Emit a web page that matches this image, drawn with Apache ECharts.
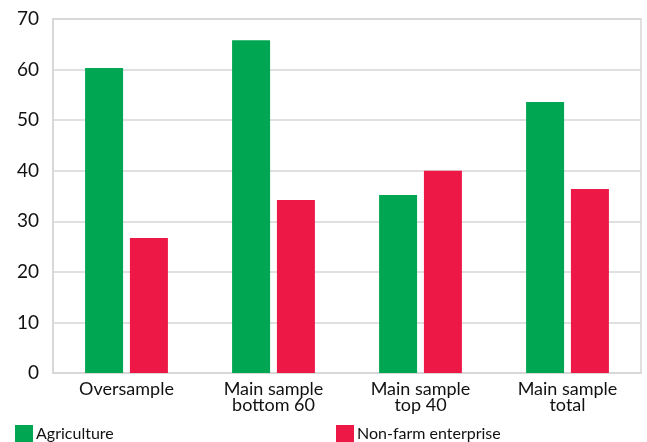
<!DOCTYPE html>
<html>
<head>
<meta charset="utf-8">
<script src="https://cdn.jsdelivr.net/npm/echarts@6/dist/echarts.min.js"></script>
<style>
  html, body { margin: 0; padding: 0; background: #fff; }
  #chart { width: 647px; height: 442px; }
</style>
</head>
<body>
<div id="chart"></div>
<script>
// Share of households by main activity (%)
const categories = ['Oversample', 'Main sample\nbottom 60', 'Main sample\ntop 40', 'Main sample\ntotal'];
const agriculture = [60.3, 65.8, 35.2, 53.6];
const nonFarm = [26.7, 34.2, 40.0, 36.4];
const yTicks = { min: 0, max: 70, interval: 10 };

const FONT = 'Lato, "Noto Sans", sans-serif';
const GREEN = '#00a651';
const RED = '#ed1846';
const GRID = '#d6d6d6';
const TEXT = '#111';

const legendBase = {
  top: 420, itemWidth: 18, itemHeight: 18, itemGap: 0, icon: 'rect',
  textStyle: { fontFamily: FONT, fontSize: 16, color: TEXT, padding: [3, 0, 0, -2] }
};

const chart = echarts.init(document.getElementById('chart'), null, { renderer: 'canvas' });
chart.setOption({
  animation: false,
  grid: { left: 53, right: 6, top: 19, bottom: 69, show: true, borderColor: GRID, borderWidth: 1.5 },
  legend: [
    Object.assign({ data: ['Agriculture'], left: 10 }, legendBase),
    Object.assign({ data: ['Non-farm enterprise'], left: 331 }, legendBase)
  ],
  xAxis: {
    type: 'category',
    data: categories,
    axisLine: { lineStyle: { color: GRID, width: 1.5 } },
    axisTick: { show: false },
    axisLabel: { fontFamily: FONT, fontSize: 18, color: TEXT, lineHeight: 16, margin: 8 }
  },
  yAxis: {
    type: 'value',
    min: yTicks.min, max: yTicks.max, interval: yTicks.interval,
    axisLine: { show: true, lineStyle: { color: GRID, width: 1.5 } },
    axisTick: { show: false },
    splitLine: { lineStyle: { color: GRID, width: 1.5 } },
    axisLabel: { fontFamily: FONT, fontSize: 19, color: TEXT, margin: 14 }
  },
  series: [
    { name: 'Agriculture', type: 'bar', data: agriculture, barWidth: 38, barGap: '18%', itemStyle: { color: GREEN } },
    { name: 'Non-farm enterprise', type: 'bar', data: nonFarm, barWidth: 38, itemStyle: { color: RED } }
  ]
});
</script>
</body>
</html>
